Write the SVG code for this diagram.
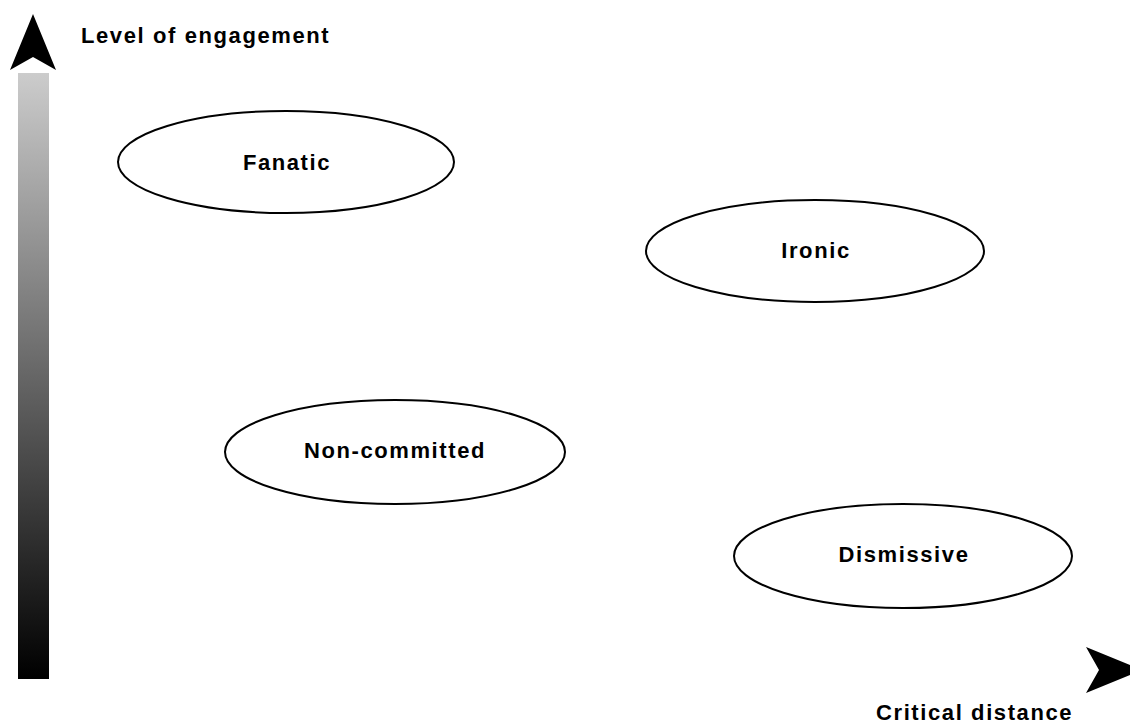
<svg xmlns="http://www.w3.org/2000/svg" width="1130" height="724" viewBox="0 0 1130 724">
<style>
.node ellipse{fill:#fff;stroke:#000;stroke-width:2}
text{font-family:"Liberation Sans",Arial,sans-serif;font-size:22px;font-weight:bold;fill:#000;letter-spacing:1.6px}
.c{text-anchor:middle}
</style>
<defs>
<linearGradient id="g" x1="0" y1="0" x2="0" y2="1">
<stop offset="0" stop-color="#cccccc"/>
<stop offset="1" stop-color="#000000"/>
</linearGradient>
</defs>
<rect width="1130" height="724" fill="#fff"/>
<g id="connectors">
<rect x="18" y="73" width="31" height="606" fill="url(#g)"/>
<polygon points="33,14 56,70 33,57 10,70" fill="#000"/>
<polygon points="1142,670 1086,647 1099,670 1086,693" fill="#000"/>
</g>
<text x="81" y="43">Level of engagement</text>
<text x="876" y="720">Critical distance</text>
<g id="fanatic" class="node"><ellipse cx="286" cy="162" rx="168" ry="51"/><text class="c" x="287" y="170">Fanatic</text></g>
<g id="ironic" class="node"><ellipse cx="815" cy="251" rx="169" ry="51"/><text class="c" x="816" y="258">Ironic</text></g>
<g id="noncommitted" class="node"><ellipse cx="395" cy="452" rx="170" ry="52"/><text class="c" x="395" y="458">Non-committed</text></g>
<g id="dismissive" class="node"><ellipse cx="903" cy="556" rx="169" ry="52"/><text class="c" x="904" y="562">Dismissive</text></g>
</svg>
